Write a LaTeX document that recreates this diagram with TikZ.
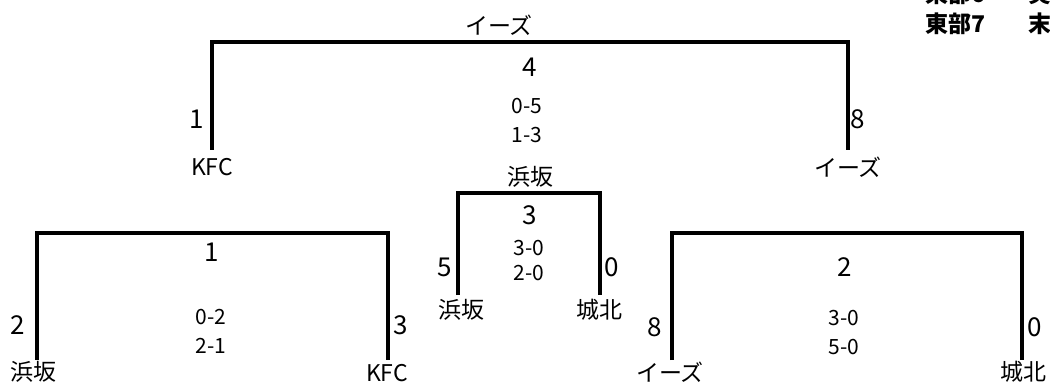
\documentclass[tikz,border=0pt]{standalone}
\usepackage{fontspec}
\setmainfont{Noto Sans CJK JP}
\begin{document}
\begin{tikzpicture}[x=1pt,y=-1pt,
  bracket/.style={line width=4pt,line join=miter,line cap=butt},
  lbl/.style={inner sep=0pt,anchor=center},
  big/.style={lbl,font=\fontsize{26}{26}\selectfont},
  score/.style={lbl,font=\fontsize{21}{21}\selectfont},
  team/.style={lbl,font=\fontsize{23}{23}\selectfont},
  head/.style={lbl,font=\fontsize{23}{23}\selectfont\bfseries}]
\useasboundingbox (0,0) rectangle (1050,385);
% top bracket
\coordinate (tA) at (212,150); \coordinate (tB) at (212,42);
\coordinate (tC) at (848,42);  \coordinate (tD) at (848,150);
\draw[bracket] (tA) -- (tB) -- (tC) -- (tD);
% middle bracket
\coordinate (mA) at (458,295); \coordinate (mB) at (458,193);
\coordinate (mC) at (600,193); \coordinate (mD) at (600,295);
\draw[bracket] (mA) -- (mB) -- (mC) -- (mD);
% bottom left bracket
\coordinate (lA) at (37,360); \coordinate (lB) at (37,233);
\coordinate (lC) at (388,233); \coordinate (lD) at (388,360);
\draw[bracket] (lA) -- (lB) -- (lC) -- (lD);
% bottom right bracket
\coordinate (rA) at (672,360); \coordinate (rB) at (672,233);
\coordinate (rC) at (1022,233); \coordinate (rD) at (1022,360);
\draw[bracket] (rA) -- (rB) -- (rC) -- (rD);
% top labels
\node[team] (tw) at (499,25) {イーズ};
\node[big] (tn) at (530,67) {4};
\node[score] (ts1) at (527,106) {0-5};
\node[score] (ts2) at (527,135) {1-3};
\node[big] (tl) at (197,119) {1};
\node[team] (tln) at (212,167) {KFC};
\node[big] (tr) at (858,119) {8};
\node[team] (trn) at (848,167) {イーズ};
% middle labels
\node[team] (mw) at (530,177) {浜坂};
\node[big] (mn) at (530,215) {3};
\node[score] (ms1) at (529,248) {3-0};
\node[score] (ms2) at (529,273) {2-0};
\node[big] (ml) at (445,267) {5};
\node[big] (mr) at (612,267) {0};
\node[team] (mln) at (461,310) {浜坂};
\node[team] (mrn) at (599,310) {城北};
% bottom left labels
\node[big] (ln) at (212,252) {1};
\node[score] (ls1) at (211,317) {0-2};
\node[score] (ls2) at (211,346) {2-1};
\node[big] (ll) at (18,325) {2};
\node[big] (lr) at (401,325) {3};
\node[team] (lln) at (33,372) {浜坂};
\node[team] (lrn) at (387,373) {KFC};
% bottom right labels
\node[big] (rn) at (845,267) {2};
\node[score] (rs1) at (844,318) {3-0};
\node[score] (rs2) at (844,347) {5-0};
\node[big] (rl) at (655,327) {8};
\node[big] (rr) at (1035,327) {0};
\node[team] (rln) at (670,372) {イーズ};
\node[team] (rrn) at (1023,372) {城北};
% legend (cut off at the top edge, as in the reference)
\node[head] (h6) at (955,-6) {東部6};
\node[head] (h6b) at (1040,-6) {実};
\node[head] (h7) at (955,24) {東部7};
\node[head] (h7b) at (1040,24) {末};
\end{tikzpicture}
\end{document}
